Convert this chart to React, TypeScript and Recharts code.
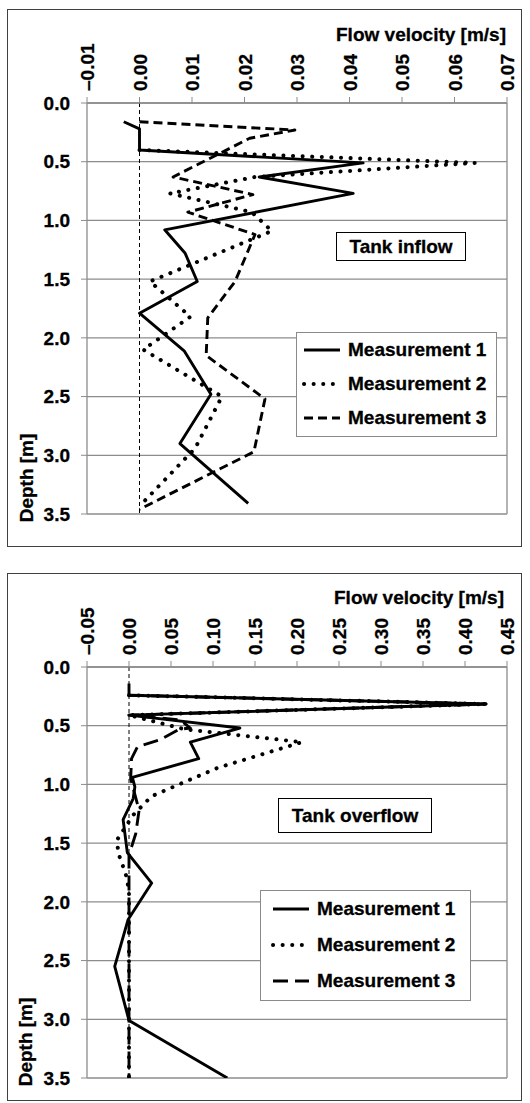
import React from "react";
import {
  LineChart,
  Line,
  XAxis,
  YAxis,
  CartesianGrid,
  ReferenceLine,
  Legend,
} from "recharts";

// ---- Tank inflow (top chart) ----
const inflowDepth1 = [0.16, 0.22, 0.4, 0.51, 0.63, 0.77, 1.08, 1.28, 1.52, 1.79, 2.11, 2.48, 2.9, 3.41];
const inflowVel1 = [-0.003, 0.0, 0.0, 0.0426, 0.0228, 0.0407, 0.0048, 0.0087, 0.011, 0.0, 0.0085, 0.0136, 0.0077, 0.0207];

const inflowDepth2 = [0.4, 0.51, 0.63, 0.77, 0.93, 1.09, 1.52, 1.82, 2.1, 2.5, 2.94, 3.41];
const inflowVel2 = [0.0, 0.0639, 0.022, 0.0058, 0.0214, 0.0252, 0.002, 0.0097, 0.0007, 0.0157, 0.0106, 0.0005];

const inflowDepth3 = [0.16, 0.23, 0.3, 0.63, 0.78, 0.93, 1.12, 1.52, 1.83, 2.15, 2.52, 2.97, 3.46];
const inflowVel3 = [0.0, 0.0296, 0.021, 0.0064, 0.0216, 0.0092, 0.022, 0.0182, 0.013, 0.0127, 0.0239, 0.0218, 0.0];

// ---- Tank overflow (bottom chart) ----
const overflowDepth1 = [0.14, 0.24, 0.315, 0.41, 0.52, 0.64, 0.78, 0.94, 1.02, 1.12, 1.3, 1.58, 1.84, 2.15, 2.55, 3.01, 3.5];
const overflowVel1 = [0.0, 0.0, 0.425, 0.0, 0.132, 0.073, 0.083, 0.004, 0.007, 0.005, -0.007, -0.002, 0.027, -0.001, -0.017, 0.0, 0.117];

const overflowDepth2 = [0.24, 0.315, 0.41, 0.53, 0.64, 0.86, 1.1, 1.26, 1.47, 1.58, 1.76, 1.9, 3.5];
const overflowVel2 = [0.0, 0.425, 0.0, 0.066, 0.206, 0.105, 0.027, 0.005, -0.014, -0.013, -0.004, 0.0, 0.0];

const overflowDepth3 = [0.24, 0.315, 0.41, 0.45, 0.52, 0.53, 0.62, 0.68, 0.78, 0.95, 1.22, 1.42, 1.6, 3.5];
const overflowVel3 = [0.0, 0.425, 0.0, 0.061, 0.073, 0.06, 0.037, 0.01, 0.003, 0.002, 0.012, 0.008, 0.0, 0.0];

const inflowTicks = [-0.01, 0, 0.01, 0.02, 0.03, 0.04, 0.05, 0.06, 0.07];
const overflowTicks = [-0.05, 0, 0.05, 0.1, 0.15, 0.2, 0.25, 0.3, 0.35, 0.4, 0.45];
const depthTicks = [0, 0.5, 1, 1.5, 2, 2.5, 3, 3.5];
const seriesNames = ["Measurement 1", "Measurement 2", "Measurement 3"];

const FONT = "'Liberation Sans', Arial, Helvetica, sans-serif";
const GRID = "#8c8c8c";

const toPoints = (depth: number[], vel: number[]) => depth.map((d, i) => ({ d, v: vel[i] }));

const fmtVel = (v: number) => (v < 0 ? "\u2013" + Math.abs(v).toFixed(2) : v.toFixed(2));

function VelocityTick(props: any) {
  const { x, y, payload } = props;
  return (
    <text
      x={0}
      y={0}
      transform={`translate(${x + 7},${y}) rotate(-90)`}
      textAnchor="start"
      fontSize={19}
      fontWeight="bold"
      fill="#000"
      stroke="#000"
      strokeWidth={0.3}
    >
      {fmtVel(payload.value)}
    </text>
  );
}

type Box = { left: number; top: number; width: number; height: number };

interface ProfileProps {
  top: number;
  height: number;
  bottom: number;
  ticks: number[];
  series: { d: number; v: number }[][];
  dash: string;
  label: string;
  labelBox: Box;
  legendBox: Box;
  legendPad: number;
  titleTop: number;
  titleRight: number;
  depthCenter: [number, number];
}

const heavy = { fontSize: 19, fontWeight: "bold" as const, WebkitTextStroke: "0.3px #000" };

function Profile(p: ProfileProps) {
  const styles = [
    { strokeWidth: 2.9, strokeDasharray: undefined, cap: "butt" },
    { strokeWidth: 4, strokeDasharray: "0.1 9.5", cap: "round" },
    { strokeWidth: 2.9, strokeDasharray: p.dash, cap: "butt" },
  ];
  const rowH = p.legendBox.height / 3;

  const renderLegend = (props: any) => (
    <div
      style={{
        width: p.legendBox.width,
        height: p.legendBox.height,
        boxSizing: "border-box",
        border: "1.5px solid #8a8a8a",
        background: "#fff",
        paddingLeft: p.legendPad,
      }}
    >
      {(props.payload || []).map((entry: any, i: number) => (
        <div key={i} style={{ display: "flex", alignItems: "center", height: rowH - 1 }}>
          <svg width={46} height={10} style={{ flex: "none" }}>
            <line
              x1={2}
              y1={5}
              x2={38}
              y2={5}
              stroke="#000"
              strokeWidth={styles[i].strokeWidth}
              strokeDasharray={styles[i].strokeDasharray}
              strokeLinecap={styles[i].cap as any}
            />
          </svg>
          <span style={{ ...heavy, whiteSpace: "nowrap" }}>{entry.value}</span>
        </div>
      ))}
    </div>
  );

  const domain = [p.ticks[0], p.ticks[p.ticks.length - 1]];

  return (
    <div style={{ position: "absolute", left: 0, top: p.top, width: 530, height: p.height }}>
      <LineChart
        width={530}
        height={p.height}
        layout="vertical"
        margin={{ top: 0, right: 23, bottom: p.bottom, left: 0 }}
      >
        <CartesianGrid vertical={false} stroke={GRID} strokeWidth={1.3} />
        <XAxis
          type="number"
          orientation="top"
          domain={domain}
          ticks={p.ticks}
          interval={0}
          allowDataOverflow
          height={103}
          tickSize={6}
          tickMargin={6}
          axisLine={{ stroke: GRID, strokeWidth: 1.3 }}
          tickLine={{ stroke: GRID }}
          tick={(t: any) => <VelocityTick {...t} />}
        />
        <YAxis
          type="number"
          dataKey="d"
          domain={[0, 3.5]}
          ticks={depthTicks}
          interval={0}
          allowDataOverflow
          width={87}
          tickSize={6}
          tickMargin={11}
          axisLine={{ stroke: GRID, strokeWidth: 1.3 }}
          tickLine={{ stroke: GRID }}
          tick={{ fontSize: 19, fontWeight: "bold", fill: "#000", stroke: "#000", strokeWidth: 0.3 }}
          tickFormatter={(v: number) => v.toFixed(1)}
        />
        <ReferenceLine x={domain[1]} stroke={GRID} strokeWidth={1.3} />
        <ReferenceLine x={0} stroke="#000" strokeWidth={1} strokeDasharray="4 3" />
        {p.series.map((data, i) => (
          <Line
            key={i}
            data={data}
            dataKey="v"
            name={seriesNames[i]}
            type="linear"
            stroke="#000"
            strokeWidth={styles[i].strokeWidth}
            strokeDasharray={styles[i].strokeDasharray}
            strokeLinecap={styles[i].cap as any}
            strokeLinejoin="round"
            dot={false}
            activeDot={false}
            isAnimationActive={false}
          />
        ))}
        <Legend
          layout="vertical"
          align="center"
          verticalAlign="middle"
          content={renderLegend}
          wrapperStyle={{
            left: p.legendBox.left,
            top: p.legendBox.top - p.top,
            width: p.legendBox.width,
            height: p.legendBox.height,
          }}
        />
      </LineChart>
      <div
        style={{
          ...heavy,
          position: "absolute",
          left: 0,
          width: p.titleRight,
          top: p.titleTop - p.top,
          textAlign: "right",
          lineHeight: "22px",
        }}
      >
        Flow velocity [m/s]
      </div>
      <div
        style={{
          ...heavy,
          position: "absolute",
          left: p.depthCenter[0] - 55,
          top: p.depthCenter[1] - p.top - 11,
          width: 110,
          height: 22,
          lineHeight: "22px",
          textAlign: "center",
          transform: "rotate(-90deg)",
        }}
      >
        Depth [m]
      </div>
      <div
        style={{
          ...heavy,
          position: "absolute",
          left: p.labelBox.left,
          top: p.labelBox.top - p.top,
          width: p.labelBox.width,
          height: p.labelBox.height,
          boxSizing: "border-box",
          border: "1.5px solid #000",
          background: "#fff",
          display: "flex",
          alignItems: "center",
          justifyContent: "center",
        }}
      >
        {p.label}
      </div>
    </div>
  );
}

export default function App() {
  const inflow = [
    toPoints(inflowDepth1, inflowVel1),
    toPoints(inflowDepth2, inflowVel2),
    toPoints(inflowDepth3, inflowVel3),
  ];
  const overflow = [
    toPoints(overflowDepth1, overflowVel1),
    toPoints(overflowDepth2, overflowVel2),
    toPoints(overflowDepth3, overflowVel3),
  ];
  return (
    <div
      style={{
        position: "absolute",
        left: 0,
        top: 0,
        width: 530,
        height: 1103,
        background: "#fff",
        fontFamily: FONT,
        color: "#000",
      }}
    >
      <div style={{ position: "absolute", left: 7, top: 9, width: 515, height: 538, boxSizing: "border-box", border: "1.5px solid #404040" }} />
      <div style={{ position: "absolute", left: 7, top: 573, width: 515, height: 528, boxSizing: "border-box", border: "1.5px solid #404040" }} />
      <Profile
        top={0}
        height={550}
        bottom={36}
        ticks={inflowTicks}
        series={inflow}
        dash="9 5"
        label="Tank inflow"
        labelBox={{ left: 336, top: 232, width: 130, height: 29 }}
        legendBox={{ left: 296, top: 332, width: 201, height: 105 }}
        legendPad={5}
        titleTop={24}
        titleRight={506}
        depthCenter={[27, 478]}
      />
      <Profile
        top={564}
        height={539}
        bottom={25}
        ticks={overflowTicks}
        series={overflow}
        dash="15 7"
        label="Tank overflow"
        labelBox={{ left: 278, top: 798, width: 154, height: 35 }}
        legendBox={{ left: 260, top: 890, width: 211, height: 111 }}
        legendPad={10}
        titleTop={587}
        titleRight={504}
        depthCenter={[26, 1042]}
      />
    </div>
  );
}
